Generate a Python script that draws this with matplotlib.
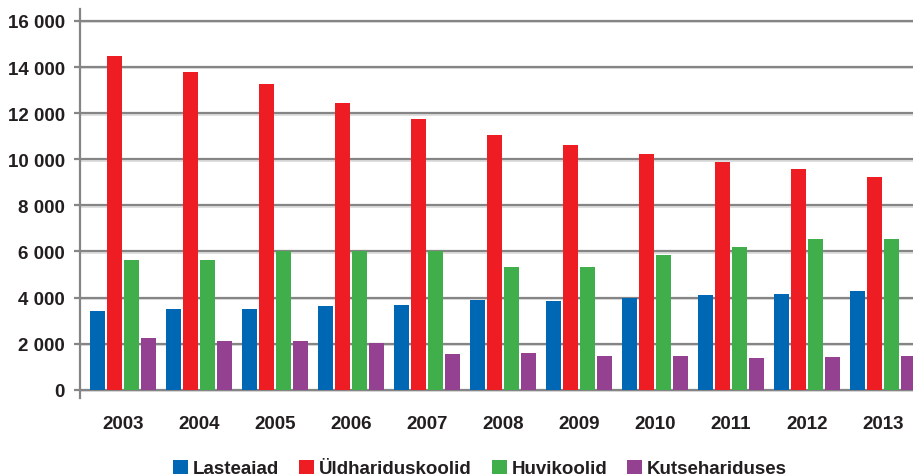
import matplotlib
matplotlib.use("Agg")
import matplotlib.pyplot as plt
from matplotlib.patches import Patch
from matplotlib.ticker import FuncFormatter
import numpy as np

# data
years = ["2003", "2004", "2005", "2006", "2007", "2008",
         "2009", "2010", "2011", "2012", "2013"]
lasteaiad = [3415, 3500, 3500, 3630, 3675, 3890, 3850, 3980, 4110, 4150, 4280]
yldhariduskoolid = [14480, 13790, 13270, 12440, 11750, 11050, 10620, 10230, 9880, 9580, 9230]
huvikoolid = [5630, 5630, 6000, 6000, 6000, 5330, 5330, 5850, 6190, 6540, 6540]
kutsehariduses = [2240, 2110, 2110, 2040, 1550, 1590, 1460, 1460, 1380, 1420, 1460]

series_names = ["Lasteaiad", "Üldhariduskoolid", "Huvikoolid", "Kutsehariduses"]
series = [lasteaiad, yldhariduskoolid, huvikoolid, kutsehariduses]
colors = ["#0067b4", "#ee1d24", "#40ae4a", "#934190"]

plt.rcParams["font.family"] = ["Liberation Sans", "DejaVu Sans"]
plt.rcParams["font.weight"] = "bold"
text_color = "#231f20"
grid_color = "#858585"
fs = 13.5

W, H = 913, 477
fig = plt.figure(figsize=(W / 100, H / 100), dpi=100)
ax = fig.add_axes([80 / W, (H - 399) / H, (W - 80) / W, 389 / H])

x = np.arange(len(years))
step = 17 / 76
width = 15 / 76
for k, (vals, col) in enumerate(zip(series, colors)):
    ax.bar(x + (k - 1.5) * step, vals, width=width, color=col, zorder=3)

ax.set_xlim(-43 / 76, (W - 123) / 76)
ax.set_ylim(-360, 16520)

yt = np.arange(0, 16001, 2000)
ax.set_yticks(yt)
ax.yaxis.set_major_formatter(FuncFormatter(lambda v, p: f"{int(v):,}".replace(",", " ")))
# gridlines with a faint shadow under them
ax.hlines(yt - 60, *ax.get_xlim(), colors="#d9d9d9", lw=1.2, zorder=1)
ax.hlines(yt, *ax.get_xlim(), colors=grid_color, lw=1.6, zorder=2)

ax.set_xticks(x)
ax.set_xticklabels(years)

for s in ["top", "right", "bottom"]:
    ax.spines[s].set_visible(False)
ax.spines["left"].set_color(grid_color)
ax.spines["left"].set_linewidth(1.6)

ax.tick_params(axis="y", length=4.5, width=1.6, color=grid_color, pad=6.5,
               labelsize=fs, labelcolor=text_color)
ax.tick_params(axis="x", length=0, pad=12, labelsize=fs, labelcolor=text_color)

handles = [Patch(facecolor=c, edgecolor="none") for c in colors]
fig.legend(handles, series_names, loc="center", bbox_to_anchor=(0.5257, 0.0157),
           ncol=4, frameon=False, fontsize=fs, handlelength=0.8, handleheight=0.8,
           handletextpad=0.25, columnspacing=1.07, labelcolor=text_color,
           borderaxespad=0, borderpad=0)

fig.savefig("out.png", dpi=100)
